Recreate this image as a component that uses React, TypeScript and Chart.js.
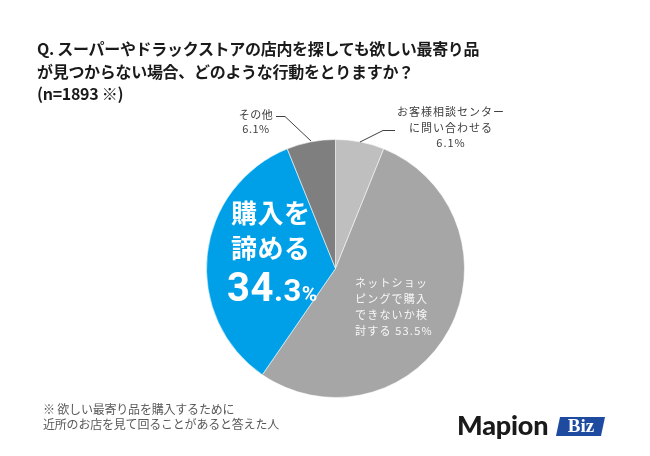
import React, { useEffect, useRef } from "react";
import { Chart, registerables } from "chart.js";

Chart.register(...registerables);

const categories = ["お客様相談センターに問い合わせる", "ネットショッピングで購入できないか検討する", "購入を諦める", "その他"];
const shares = [6.1, 53.5, 34.3, 6.1];
const sliceColors = ["#bfbfbf", "#a6a6a6", "#00a0e9", "#7f7f7f"];

const titleLines = [
  "Q. スーパーやドラックストアの店内を探しても欲しい最寄り品",
  "が見つからない場合、どのような行動をとりますか？",
  "(n=1893 ※)",
];
const noteLines = ["※ 欲しい最寄り品を購入するために", "近所のお店を見て回ることがあると答えた人"];
const netLines = ["ネットショッ", "ピングで購入", "できないか検", "討する 53.5%"];

const W = 650;
const H = 456;
const JP = '"Noto Sans CJK JP", "Noto Sans", sans-serif';

const leaderPlugin = {
  id: "leaders",
  afterDraw(chart: any) {
    const ctx = chart.ctx;
    ctx.save();
    ctx.strokeStyle = "#404040";
    ctx.lineWidth = 1;
    ctx.beginPath();
    ctx.moveTo(276, 116.5);
    ctx.lineTo(285, 116.5);
    ctx.lineTo(311, 141);
    ctx.stroke();
    ctx.beginPath();
    ctx.moveTo(395, 130.5);
    ctx.lineTo(383, 130.5);
    ctx.lineTo(360, 142);
    ctx.stroke();
    ctx.restore();
  },
};

export default function App() {
  const ref = useRef<HTMLCanvasElement>(null);
  useEffect(() => {
    if (!ref.current) return;
    const chart = new Chart(ref.current, {
      type: "pie",
      data: {
        labels: categories,
        datasets: [
          {
            data: shares,
            backgroundColor: sliceColors,
            borderColor: "rgba(255,255,255,0.55)",
            borderWidth: 1,
          },
        ],
      },
      options: {
        responsive: false,
        animation: false,
        devicePixelRatio: 1,
        layout: { padding: { left: 206, top: 139, right: W - 206 - 259, bottom: H - 139 - 259 } },
        plugins: { legend: { display: false }, tooltip: { enabled: false } },
      },
      plugins: [leaderPlugin],
    });
    return () => chart.destroy();
  }, []);

  const abs = (s: React.CSSProperties): React.CSSProperties => ({ position: "absolute", whiteSpace: "nowrap", ...s });

  return (
    <div style={{ position: "fixed", left: 0, top: 0, width: W, height: H, background: "#fff", overflow: "hidden" }}>
      <canvas ref={ref} width={W} height={H} style={{ position: "absolute", left: 0, top: 0 }} />
      <div style={abs({ left: 37, top: 37, fontFamily: JP, fontWeight: 700, fontSize: 16, lineHeight: "22.5px", color: "#1a1a1a", letterSpacing: "-0.3px" })}>
        {titleLines.map((t, i) => (
          <div key={i}>{t}</div>
        ))}
      </div>
      <div style={abs({ left: 225, top: 107, width: 62, textAlign: "center", fontFamily: JP, fontSize: 11, lineHeight: "14px", color: "#404040", letterSpacing: "0.5px" })}>
        <div>その他</div>
        <div>6.1%</div>
      </div>
      <div style={abs({ left: 380, top: 104, width: 142, textAlign: "center", fontFamily: JP, fontSize: 11, lineHeight: "15.5px", color: "#404040", letterSpacing: "1px" })}>
        <div>お客様相談センター</div>
        <div>に問い合わせる</div>
        <div>6.1%</div>
      </div>
      <div style={abs({ left: 355, top: 274, fontFamily: JP, fontSize: 11, lineHeight: "16px", color: "#f7f7f7", letterSpacing: "1.2px" })}>
        {netLines.map((t, i) => (
          <div key={i}>{t}</div>
        ))}
      </div>
      <div style={abs({ left: 231, top: 194, fontFamily: JP, fontWeight: 700, fontSize: 26, lineHeight: "35px", color: "#fff", letterSpacing: "0.5px" })}>
        <div>購入を</div>
        <div>諦める</div>
      </div>
      <div style={abs({ left: 227, top: 268, fontFamily: '"Roboto", "Noto Sans", sans-serif', fontWeight: 700, color: "#fff", lineHeight: "40px", letterSpacing: "0.5px" })}>
        <span style={{ fontSize: 40 }}>34</span>
        <span style={{ fontSize: 31 }}>.3</span>
        <span style={{ fontSize: 21 }}>%</span>
      </div>
      <div style={abs({ left: 43, top: 401, fontFamily: JP, fontSize: 12, lineHeight: "15px", color: "#595959", letterSpacing: "-0.2px" })}>
        {noteLines.map((t, i) => (
          <div key={i}>{t}</div>
        ))}
      </div>
      <div style={abs({ left: 457, top: 409, fontFamily: '"Lato", "Open Sans", sans-serif', fontWeight: 900, fontSize: 27, lineHeight: "32px", color: "#1a1a1a", letterSpacing: "-0.2px" })}>
        Mapion
      </div>
      <div style={abs({ left: 558, top: 417, width: 45, height: 19, background: "#1e4aa0", transform: "skewX(-12deg)" })} />
      <div style={abs({ left: 561, top: 414, width: 40, textAlign: "center", fontFamily: '"Liberation Serif", "DejaVu Serif", serif', fontWeight: 700, fontSize: 19, lineHeight: "24px", color: "#fff" })}>
        Biz
      </div>
    </div>
  );
}
